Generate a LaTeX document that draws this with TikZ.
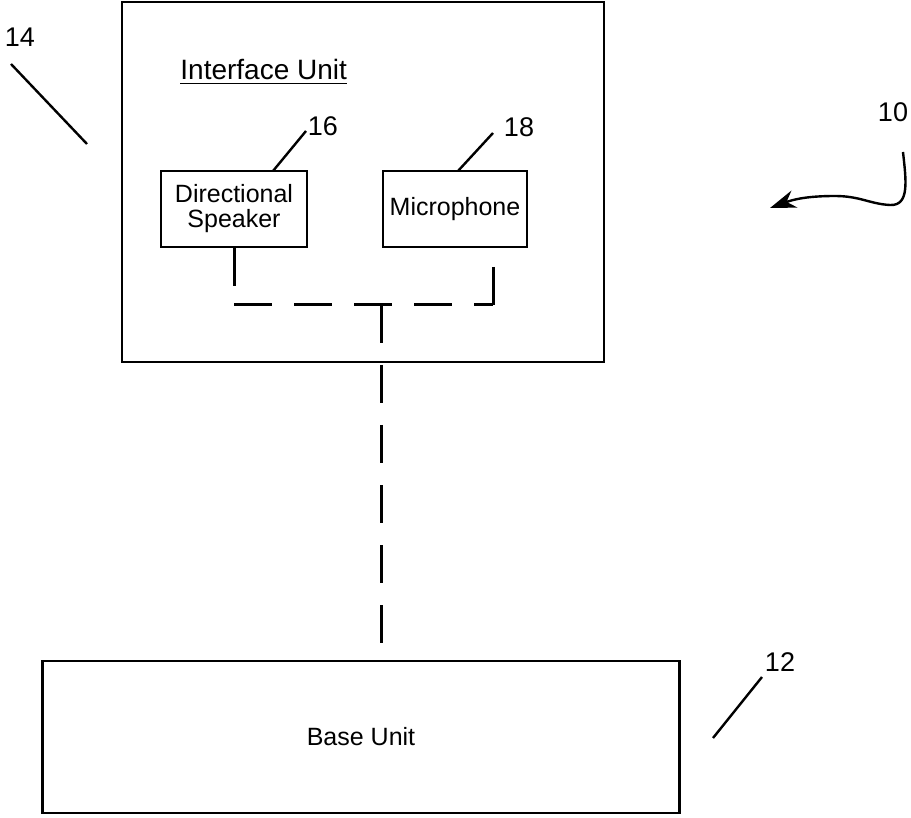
\documentclass[tikz,border=0pt]{standalone}
\usepackage{fontspec}
\setsansfont{Liberation Sans}
\usetikzlibrary{arrows.meta}

\begin{document}
\begin{tikzpicture}[x=0.5pt,y=-0.5pt,every node/.style={font=\sffamily},box/.style={draw,line width=1.1pt,inner sep=0pt,align=center,font=\sffamily\fontsize{12.5}{12.5}\selectfont},num/.style={inner sep=0pt,font=\sffamily\fontsize{13.5}{15}\selectfont},leader/.style={line width=1.2pt},wire/.style={line width=1.5pt},link/.style={line width=1.5pt,dash pattern=on 19pt off 11pt}]
\useasboundingbox (0,0) rectangle (911,818);

\node[box,minimum width=241pt,minimum height=180pt] (iface) at (363,182) {};
\node[anchor=base west,inner sep=0pt,font=\sffamily\fontsize{14}{16}\selectfont] (title) at (180,80) {\underline{Interface Unit}};
\node[box,minimum width=73pt,minimum height=38pt] (spk) at (234,209) {Directional\\Speaker};
\node[box,minimum width=72pt,minimum height=38pt] (mic) at (455,209) {Microphone};
\node[box,minimum width=318.5pt,minimum height=76pt] (base) at (361,737) {Base Unit};

% reference numerals
\node[num] (n14) at (20,37) {14}; \node[num] (n16) at (323,126) {16}; \node[num] (n18) at (519,127) {18};
\node[num] (n10) at (893,112) {10}; \node[num] (n12) at (780,662) {12};
\coordinate (a14) at (11,64); \coordinate (b14) at (87,144); \coordinate (a16) at (306,131); \coordinate (b16) at (273,171);
\coordinate (a18) at (493,133); \coordinate (b18) at (458,171); \coordinate (a12) at (762,677); \coordinate (b12) at (713,738);
\draw[leader] (a14)--(b14); \draw[leader] (a16)--(b16); \draw[leader] (a18)--(b18); \draw[leader] (a12)--(b12);
\coordinate (c10) at (903,152);
\draw[leader,-{Stealth[length=13pt,width=9pt]}] (c10) .. controls (906,180) and (910,206) .. (890,205) .. controls (870,204) and (860,196) .. (835,196) .. controls (805,196) and (792,200) .. (770,208);

% wiring
\coordinate (sp) at (234,286); \coordinate (jl) at (234,305); \coordinate (jr) at (493,305); \coordinate (mp) at (493,267); \coordinate (tj) at (381,305);
\draw[wire] (spk.south)--(sp); \draw[link] (jl)--(jr); \draw[wire] (mp)--(jr);
\draw[link] (tj)--(tj |- base.north);

\end{tikzpicture}
\end{document}
